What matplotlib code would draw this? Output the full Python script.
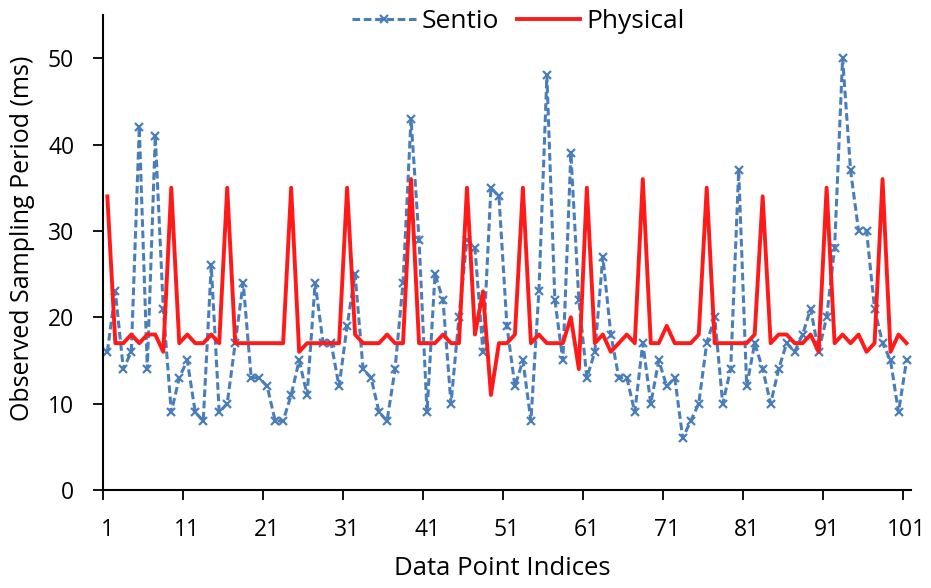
import matplotlib
matplotlib.use("Agg")
import matplotlib.pyplot as plt
import numpy as np

plt.rcParams['font.family'] = ['Open Sans', 'DejaVu Sans']

# Werte (Index 1..101)
sentio = [16, 23, 14, 16, 42, 14, 41, 21, 9, 13,
          15, 9, 8, 26, 9, 10, 17, 24, 13, 13,
          12, 8, 8, 11, 15, 11, 24, 17, 17, 12,
          19, 25, 14, 13, 9, 8, 14, 24, 43, 29,
          9, 25, 22, 10, 20, 29, 28, 16, 35, 34,
          19, 12, 15, 8, 23, 48, 22, 15, 39, 22,
          13, 16, 27, 18, 13, 13, 9, 17, 10, 15,
          12, 13, 6, 8, 10, 17, 20, 10, 14, 37,
          12, 17, 14, 10, 14, 17, 16, 18, 21, 16,
          20, 28, 50, 37, 30, 30, 21, 17, 15, 9,
          15]

physical = [34, 17, 17, 18, 17, 18, 18, 16, 35, 17,
            18, 17, 17, 18, 17, 35, 17, 17, 17, 17,
            17, 17, 17, 35, 16, 17, 17, 17, 17, 17,
            35, 18, 17, 17, 17, 18, 17, 17, 36, 17,
            17, 17, 18, 17, 17, 35, 18, 23, 11, 17,
            17, 18, 35, 17, 18, 17, 17, 17, 20, 14,
            35, 17, 18, 16, 17, 18, 17, 36, 17, 17,
            19, 17, 17, 17, 18, 35, 17, 17, 17, 17,
            17, 18, 34, 17, 18, 18, 17, 17, 18, 16,
            35, 17, 18, 17, 18, 16, 17, 36, 16, 18,
            17]

indices = np.arange(1, len(sentio) + 1)
tick_labels = [str(i) for i in range(1, 102, 10)]

fig = plt.figure(figsize=(9.31, 5.88), dpi=100)
ax = fig.add_axes([0.111, 0.1667, 0.867, 0.8078])

ax.plot(indices, sentio, color='#4A7EBB', linewidth=2.2, dashes=(2.5, 1.2),
        marker='x', markersize=5.5, markeredgewidth=1.6, label='Sentio')
ax.plot(indices, physical, color='#FF1A1A', linewidth=2.8, label='Physical')

# Achsen im Excel-Stil: Striche zwischen den Kategorien
ax.set_xlim(0.5, 101.5)
ax.set_ylim(0, 55)
ax.set_yticks([0, 10, 20, 30, 40, 50])
ax.set_xticks(np.arange(0.5, 102, 10))
ax.set_xticklabels([])
ax.set_xticks(np.arange(1, 102, 10), minor=True)
ax.set_xticklabels(tick_labels, minor=True)
ax.tick_params(axis='x', which='major', direction='out', length=7, width=1.3)
ax.tick_params(axis='x', which='minor', length=0, pad=20, labelsize=16.5)
ax.tick_params(axis='y', direction='out', length=7, width=1.3, pad=14, labelsize=16.5)

for side in ['top', 'right']:
    ax.spines[side].set_visible(False)
for side in ['left', 'bottom']:
    ax.spines[side].set_linewidth(1.5)

ax.set_xlabel('Data Point Indices', fontsize=18.5)
ax.xaxis.set_label_coords(0.494, -0.14)
ax.set_ylabel('Observed Sampling Period (ms)', fontsize=18)
ax.yaxis.set_label_coords(-0.085, 0.53)

fig.legend(loc='upper center', bbox_to_anchor=(0.557, 1.025), ncol=2,
           frameon=False, fontsize=19, handlelength=2.4, columnspacing=0.65,
           handletextpad=0.25)

fig.savefig('out.png', dpi=100)
